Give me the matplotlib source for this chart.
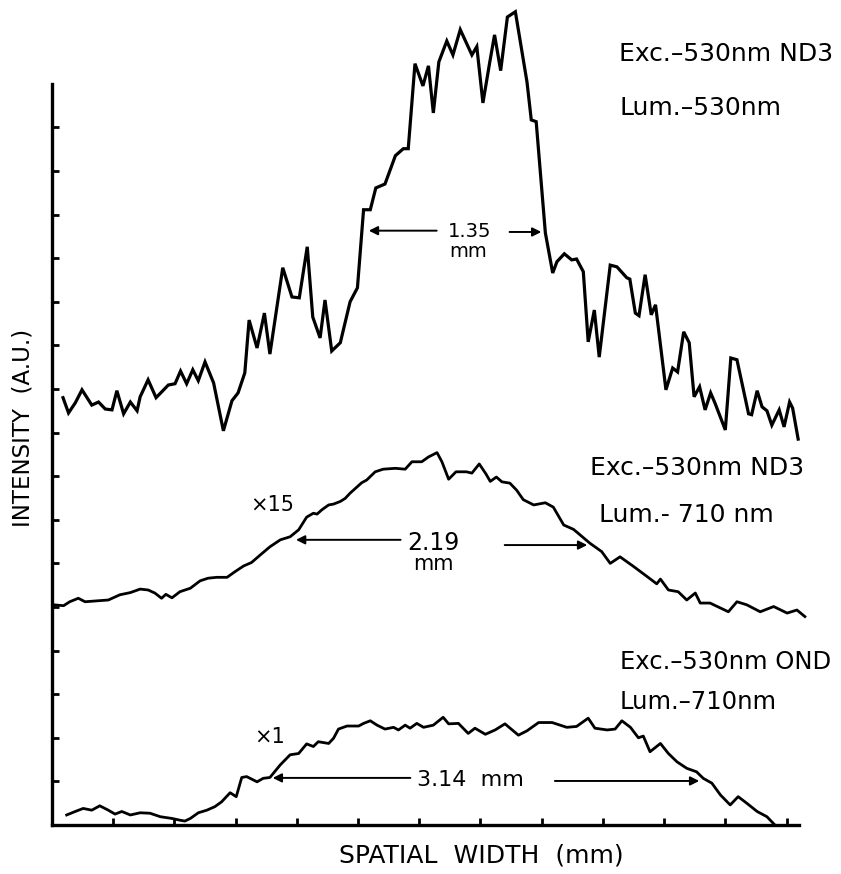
import matplotlib.pyplot as plt

# Spatial profiles, x and y in axis-tick units
# Top trace: Exc. 530nm ND3, Lum. 530nm
x_lum530 = [0.18, 0.27, 0.38, 0.49, 0.65, 0.76, 0.87, 0.98, 1.06, 1.17, 1.28, 1.39, 1.44, 1.57,
            1.70, 1.79, 1.90, 2.01, 2.10, 2.20, 2.30, 2.39, 2.50, 2.64, 2.80, 2.94, 3.04, 3.15,
            3.22, 3.35, 3.47, 3.56, 3.77, 3.92, 4.04, 4.17, 4.26, 4.38, 4.46, 4.57, 4.71, 4.87,
            4.99, 5.09, 5.20, 5.29, 5.44, 5.61, 5.74, 5.82, 5.93, 6.06, 6.15, 6.23, 6.32, 6.45,
            6.55, 6.67, 6.86, 6.94, 7.04, 7.15, 7.23, 7.33, 7.44, 7.57, 7.76, 7.83, 7.91, 8.06,
            8.18, 8.25, 8.37, 8.49, 8.57, 8.68, 8.76, 8.86, 8.94, 9.12, 9.23, 9.39, 9.44, 9.53,
            9.59, 9.69, 9.79, 9.86, 10.03, 10.14, 10.22, 10.32, 10.41, 10.49, 10.58, 10.67,
            10.76, 10.83, 11.00, 11.09, 11.19, 11.38, 11.43, 11.52, 11.60, 11.68, 11.76, 11.88,
            11.96, 12.05, 12.10, 12.19]
y_lum530 = [9.80, 9.45, 9.68, 9.98, 9.63, 9.70, 9.54, 9.52, 9.96, 9.43, 9.70, 9.50, 9.82, 10.21,
            9.80, 9.93, 10.09, 10.12, 10.41, 10.12, 10.44, 10.19, 10.62, 10.14, 9.04, 9.73, 9.91,
            10.37, 11.58, 10.94, 11.74, 10.80, 12.78, 12.11, 12.09, 13.26, 11.65, 11.17, 12.04,
            10.87, 11.06, 12.00, 12.32, 14.11, 14.11, 14.61, 14.70, 15.35, 15.51, 15.51, 17.46,
            16.95, 17.41, 16.33, 17.50, 17.98, 17.66, 18.24, 17.66, 17.85, 16.56, 17.48, 18.12,
            17.30, 18.53, 18.65, 17.04, 16.17, 16.13, 13.58, 12.66, 12.92, 13.10, 12.96, 12.98,
            12.69, 11.08, 11.81, 10.73, 12.84, 12.80, 12.55, 12.52, 11.74, 11.68, 12.62, 11.70,
            11.93, 9.98, 10.48, 10.39, 11.31, 11.06, 9.82, 10.05, 9.52, 9.91, 9.68, 9.06, 10.71,
            10.67, 9.43, 9.41, 9.96, 9.59, 9.50, 9.17, 9.52, 9.13, 9.70, 9.56, 8.85]

# Middle trace: Exc. 530nm ND3, Lum. 710nm (x15)
x_nd3_710 = [0.02, 0.19, 0.29, 0.43, 0.54, 0.73, 0.92, 1.11, 1.28, 1.44, 1.57, 1.68, 1.79, 1.86,
             1.96, 2.09, 2.26, 2.42, 2.55, 2.69, 2.86, 2.99, 3.13, 3.26, 3.40, 3.56, 3.73, 3.89,
             4.03, 4.16, 4.27, 4.33, 4.41, 4.52, 4.60, 4.71, 4.79, 4.87, 5.06, 5.14, 5.28, 5.41,
             5.61, 5.77, 5.88, 6.04, 6.15, 6.29, 6.37, 6.48, 6.60, 6.77, 6.86, 6.98, 7.09, 7.16,
             7.26, 7.35, 7.48, 7.59, 7.70, 7.87, 8.06, 8.19, 8.36, 8.52, 8.79, 8.98, 9.12, 9.28,
             9.50, 9.72, 9.88, 9.94, 10.07, 10.23, 10.37, 10.51, 10.59, 10.75, 11.05, 11.19,
             11.35, 11.57, 11.79, 12.01, 12.17, 12.30]
y_nd3_710 = [5.05, 5.03, 5.12, 5.20, 5.12, 5.14, 5.16, 5.28, 5.33, 5.41, 5.39, 5.32, 5.20, 5.29,
             5.21, 5.35, 5.43, 5.60, 5.66, 5.68, 5.68, 5.81, 5.94, 6.02, 6.19, 6.38, 6.54, 6.61,
             6.77, 7.06, 7.15, 7.13, 7.23, 7.34, 7.36, 7.42, 7.49, 7.61, 7.85, 7.91, 8.10, 8.16,
             8.18, 8.16, 8.33, 8.33, 8.44, 8.54, 8.33, 7.93, 8.10, 8.10, 8.07, 8.28, 8.05, 7.88,
             7.98, 7.87, 7.84, 7.68, 7.46, 7.34, 7.39, 7.29, 6.88, 6.78, 6.46, 6.27, 6.00, 6.15,
             5.93, 5.70, 5.53, 5.64, 5.39, 5.35, 5.16, 5.32, 5.09, 5.09, 4.89, 5.12, 5.05, 4.89,
             5.01, 4.86, 4.93, 4.78]

# Bottom trace: Exc. 530nm OND, Lum. 710nm (x1)
x_ond_710 = [0.24, 0.38, 0.51, 0.65, 0.78, 0.92, 1.03, 1.14, 1.28, 1.44, 1.60, 1.77, 1.96, 2.09,
             2.17, 2.26, 2.39, 2.53, 2.66, 2.77, 2.91, 3.01, 3.10, 3.18, 3.35, 3.45, 3.56, 3.73,
             3.89, 4.03, 4.16, 4.27, 4.35, 4.52, 4.60, 4.68, 4.82, 5.01, 5.09, 5.20, 5.31, 5.44,
             5.58, 5.66, 5.77, 5.85, 5.96, 6.07, 6.23, 6.39, 6.48, 6.64, 6.80, 6.91, 7.08, 7.24,
             7.40, 7.62, 7.76, 7.95, 8.17, 8.41, 8.57, 8.76, 8.87, 9.07, 9.20, 9.31, 9.45, 9.58,
             9.66, 9.77, 9.94, 10.07, 10.21, 10.37, 10.53, 10.64, 10.78, 10.92, 11.08, 11.21,
             11.35, 11.52, 11.68, 11.81]
y_ond_710 = [0.23, 0.31, 0.38, 0.34, 0.44, 0.34, 0.25, 0.31, 0.23, 0.28, 0.27, 0.19, 0.15, 0.11,
             0.09, 0.15, 0.28, 0.34, 0.42, 0.53, 0.74, 0.65, 1.09, 1.11, 0.99, 1.07, 1.09, 1.38,
             1.61, 1.64, 1.86, 1.80, 1.91, 1.87, 1.99, 2.20, 2.27, 2.27, 2.33, 2.39, 2.29, 2.20,
             2.24, 2.18, 2.29, 2.22, 2.33, 2.24, 2.29, 2.47, 2.32, 2.33, 2.10, 2.22, 2.08, 2.18,
             2.32, 2.06, 2.16, 2.35, 2.35, 2.24, 2.26, 2.45, 2.22, 2.18, 2.20, 2.39, 2.24, 2.00,
             2.04, 1.68, 1.87, 1.64, 1.45, 1.30, 1.22, 1.07, 0.96, 0.69, 0.46, 0.65, 0.50, 0.31,
             0.19, 0.00]

x_ticks = list(range(1, 13))
y_ticks = list(range(1, 17))


def width_arrows(ax, left, right, y_left, y_right):
    # left arrow (tail, tip) and right arrow (tail, tip) marking the FWHM
    ax.annotate("", xy=(left[1], y_left), xytext=(left[0], y_left),
                arrowprops=dict(arrowstyle="-|>", lw=1.4, color="black", mutation_scale=13))
    ax.annotate("", xy=(right[1], y_right), xytext=(right[0], y_right),
                arrowprops=dict(arrowstyle="-|>", lw=1.4, color="black", mutation_scale=13))


fig = plt.figure(figsize=(8.41, 8.74), dpi=100)
ax = fig.add_axes([52 / 841, 49 / 874, 789 / 841, 825 / 874])

ax.plot(x_lum530, y_lum530, color="black", lw=2.3, solid_joinstyle="miter")
ax.plot(x_nd3_710, y_nd3_710, color="black", lw=2.0)
ax.plot(x_ond_710, y_ond_710, color="black", lw=2.0)

ax.set_xlim(0, 12.89)
ax.set_ylim(0, 18.92)

# axes: only left and bottom, with inward ticks and no labels
ax.spines["top"].set_visible(False)
ax.spines["right"].set_visible(False)
ax.spines["left"].set_linewidth(2.4)
ax.spines["bottom"].set_linewidth(2.4)
ax.spines["left"].set_bounds(0, 17.0)
ax.spines["bottom"].set_bounds(0, 12.2)
ax.set_xticks(x_ticks)
ax.set_yticks(y_ticks)
ax.tick_params(direction="in", length=5, width=2, labelbottom=False, labelleft=False)

# FWHM markers
width_arrows(ax, (6.33, 5.13), (7.43, 8.04), 13.63, 13.60)
ax.text(6.83, 13.6, "1.35", fontsize=14, ha="center", va="center")
ax.text(6.80, 13.15, "mm", fontsize=14, ha="center", va="center")

width_arrows(ax, (5.74, 3.94), (7.35, 8.79), 6.54, 6.42)
ax.text(6.23, 6.47, "2.19", fontsize=17, ha="center", va="center")
ax.text(6.23, 5.98, "mm", fontsize=15, ha="center", va="center")

width_arrows(ax, (5.90, 3.56), (8.17, 10.62), 1.08, 1.01)
ax.text(6.84, 1.03, "3.14  mm", fontsize=16, ha="center", va="center")

ax.text(3.59, 7.34, "×15", fontsize=15, ha="center", va="center")
ax.text(3.56, 2.02, "×1", fontsize=15, ha="center", va="center")

# condition labels
ax.text(9.27, 17.69, "Exc.–530nm ND3", fontsize=18, ha="left", va="center")
ax.text(9.27, 16.45, "Lum.–530nm", fontsize=18, ha="left", va="center")
ax.text(8.79, 8.19, "Exc.–530nm ND3", fontsize=18, ha="left", va="center")
ax.text(8.93, 7.11, "Lum.- 710 nm", fontsize=18, ha="left", va="center")
ax.text(9.28, 3.74, "Exc.–530nm OND", fontsize=17.5, ha="left", va="center")
ax.text(9.28, 2.82, "Lum.–710nm", fontsize=17.5, ha="left", va="center")

fig.text(23 / 841, 1 - 428 / 874, "INTENSITY  (A.U.)", fontsize=16.5, rotation=90,
         ha="center", va="center")
fig.text(481 / 841, 1 - 855 / 874, "SPATIAL  WIDTH  (mm)", fontsize=18,
         ha="center", va="center")

fig.savefig("out.png", dpi=100)
